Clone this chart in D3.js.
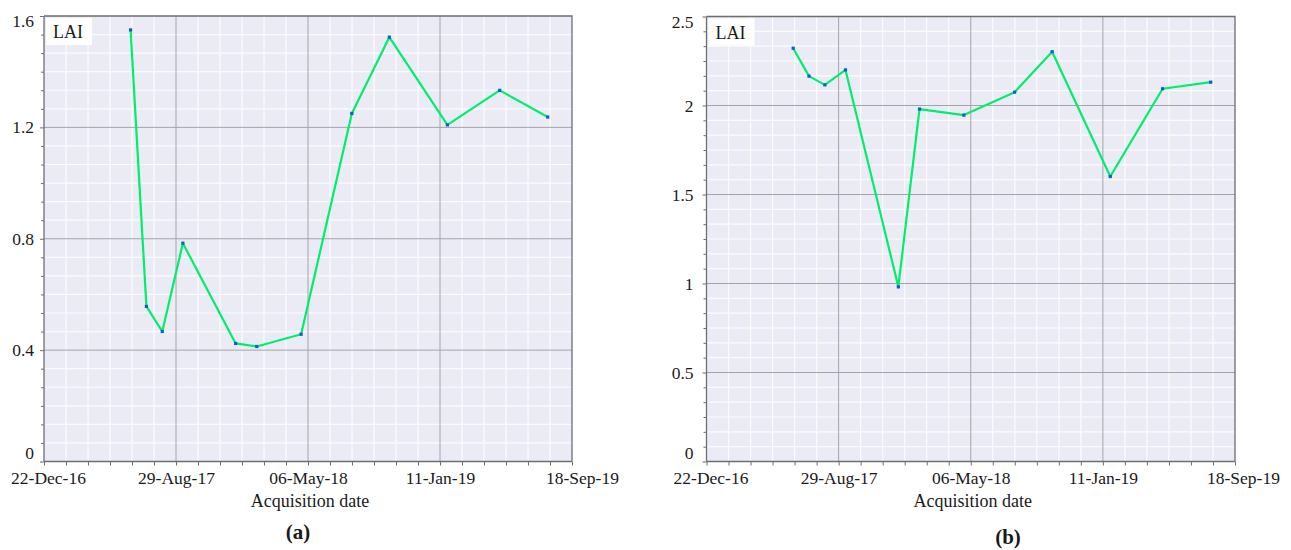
<!DOCTYPE html>
<html>
<head>
<meta charset="utf-8">
<script src="https://cdn.jsdelivr.net/npm/d3@7"></script>
<style>
    body { margin: 0; background: #fff; }
    svg text { font-family: 'Liberation Serif', 'Times New Roman', 'DejaVu Serif', serif !important; }
</style>
</head>
<body>
<svg width="1291" height="550"></svg>
<script>
    // acquisition dates (shared by both panels)
    var dates = ['2017-06-04', '2017-07-04', '2017-08-03', '2017-09-11', '2017-12-20', '2018-01-29',
                 '2018-04-23', '2018-07-28', '2018-10-07', '2019-01-25', '2019-05-04', '2019-08-03'];
    var laiA = [1.55, 0.557, 0.467, 0.784, 0.424, 0.413, 0.457, 1.25, 1.524, 1.209, 1.333, 1.237];
    var laiB = [2.322, 2.165, 2.116, 2.2, 0.981, 1.98, 1.946, 2.075, 2.302, 1.601, 2.094, 2.131];
    var xTicks = ['2016-12-22', '2017-08-29', '2018-05-06', '2019-01-11', '2019-09-18'];
    var yTicksA = [0, 0.4, 0.8, 1.2, 1.6];
    var yTicksB = [0, 0.5, 1, 1.5, 2, 2.5];
    var axisTitle = 'Acquisition date';

    var parse = d3.utcParse('%Y-%m-%d');
    var fmtDate = d3.utcFormat('%d-%b-%y');
    var svg = d3.select('svg');

    function drawPanel(opts) {
        var ticks = opts.yTicks;
        var x = d3.scaleUtc()
            .domain([parse(xTicks[0]), parse(xTicks[xTicks.length - 1])])
            .range([opts.left, opts.right]);
        var y = d3.scaleLinear()
            .domain([0, ticks[ticks.length - 1]])
            .range([opts.bottom, opts.top]);
        var xMajor = xTicks.map(parse);

        // minor positions: 6 subdivisions between majors
        var xMinor = [];
        for (var i = 0; i < xMajor.length - 1; i++) {
            var a = +xMajor[i], b = +xMajor[i + 1];
            for (var k = 1; k < 6; k++) xMinor.push(new Date(a + (b - a) * k / 6));
        }
        var yMinor = [];
        for (var j = 0; j < ticks.length - 1; j++) {
            for (var m = 1; m < 6; m++) yMinor.push(ticks[j] + (ticks[j + 1] - ticks[j]) * m / 6);
        }

        var g = svg.append('g');

        g.append('rect')
            .attr('x', opts.left).attr('y', opts.top)
            .attr('width', opts.right - opts.left).attr('height', opts.bottom - opts.top)
            .attr('fill', '#ebebf5');

        // minor grid
        g.selectAll('.vminor').data(xMinor).enter().append('line')
            .attr('x1', d => x(d)).attr('x2', d => x(d))
            .attr('y1', opts.top).attr('y2', opts.bottom)
            .attr('stroke', '#fbfbfe').attr('stroke-width', 1.2);
        g.selectAll('.hminor').data(yMinor).enter().append('line')
            .attr('x1', opts.left).attr('x2', opts.right)
            .attr('y1', d => y(d)).attr('y2', d => y(d))
            .attr('stroke', '#fbfbfe').attr('stroke-width', 1.2);

        // major grid
        g.selectAll('.vmajor').data(xMajor.slice(1, -1)).enter().append('line')
            .attr('x1', d => x(d)).attr('x2', d => x(d))
            .attr('y1', opts.top).attr('y2', opts.bottom)
            .attr('stroke', '#a4a4a8').attr('stroke-width', 1);
        g.selectAll('.hmajor').data(ticks.slice(1, -1)).enter().append('line')
            .attr('x1', opts.left).attr('x2', opts.right)
            .attr('y1', d => y(d)).attr('y2', d => y(d))
            .attr('stroke', '#a4a4a8').attr('stroke-width', 1);

        // frame top/right
        g.append('path')
            .attr('d', 'M' + opts.left + ',' + opts.top + 'H' + opts.right + 'V' + opts.bottom)
            .attr('fill', 'none').attr('stroke', '#6e6e6e').attr('stroke-width', 1.3);

        // axes
        var xAxis = g.append('g')
            .attr('transform', 'translate(0,' + opts.bottom + ')')
            .call(d3.axisBottom(x).tickValues(xMajor).tickFormat(fmtDate).tickSize(4).tickPadding(6));
        g.append('g')
            .attr('transform', 'translate(0,' + opts.bottom + ')')
            .call(d3.axisBottom(x).tickValues(xMinor).tickFormat('').tickSize(4).tickSizeOuter(0))
            .select('.domain').remove();
        var yAxis = g.append('g')
            .attr('transform', 'translate(' + opts.left + ',0)')
            .call(d3.axisLeft(y).tickValues(ticks).tickFormat(d3.format('~g')).tickSize(4).tickPadding(opts.pad));
        g.append('g')
            .attr('transform', 'translate(' + opts.left + ',0)')
            .call(d3.axisLeft(y).tickValues(yMinor).tickFormat('').tickSize(3).tickSizeOuter(0))
            .select('.domain').remove();

        g.selectAll('g').attr('font-family', null);
        g.selectAll('.domain').attr('stroke', '#6e6e6e').attr('stroke-width', 1.3);
        g.selectAll('.tick line').attr('stroke', '#6e6e6e');
        xAxis.selectAll('text').style('font-size', '17.5px').attr('fill', '#1a1a1a');
        yAxis.selectAll('text').style('font-size', '17.5px').attr('fill', '#1a1a1a');
        xAxis.select('.domain').attr('d', 'M' + opts.left + ',0H' + opts.right);
        yAxis.select('.domain').attr('d', 'M0,' + opts.bottom + 'V' + opts.top);

        // end labels are kept inside the plot extent
        var xt = xAxis.selectAll('.tick text');
        xt.filter((d, i) => i === 0).attr('dx', 4);
        xt.filter((d, i) => i === xMajor.length - 1).attr('dx', opts.lastDx);
        var yt = yAxis.selectAll('.tick text');
        yt.filter((d, i) => i === 0).attr('dy', '-0.15em');
        yt.filter((d, i) => i === ticks.length - 1).attr('dy', '0.6em');

        // LAI label
        g.append('rect')
            .attr('x', opts.left + 2).attr('y', opts.top + 2)
            .attr('width', 46).attr('height', 27).attr('fill', '#ffffff');
        g.append('text')
            .attr('x', opts.left + 9).attr('y', opts.top + 22)
            .attr('fill', '#1a1a1a')
            .style('font-size', '18px').text('LAI');

        // series
        var pts = dates.map((d, i) => ({ date: parse(d), v: opts.values[i] }));
        g.append('path')
            .datum(pts)
            .attr('d', d3.line().x(d => x(d.date)).y(d => y(d.v)))
            .attr('fill', 'none').attr('stroke', '#00ee6c').attr('stroke-width', 2.2)
            .attr('stroke-linejoin', 'round');
        g.selectAll('.pt').data(pts).enter().append('rect')
            .attr('x', d => x(d.date) - 1.6).attr('y', d => y(d.v) - 1.6)
            .attr('width', 3.2).attr('height', 3.2)
            .attr('fill', '#0c5fd0');

        // titles
        g.append('text')
            .attr('x', (opts.left + opts.right) / 2 + 2).attr('y', 507)
            .attr('text-anchor', 'middle').attr('fill', '#1a1a1a').style('font-size', '18px')
            .text(axisTitle);
        g.append('text')
            .attr('x', opts.capX).attr('y', opts.capY)
            .attr('text-anchor', 'middle').attr('fill', '#1a1a1a')
            .style('font-size', '21px').style('font-weight', 'bold')
            .text(opts.caption);
    }

    drawPanel({ left: 44, right: 572, top: 16, bottom: 461.5, yTicks: yTicksA, values: laiA,
                pad: 6, lastDx: 10, caption: '(a)', capX: 298, capY: 539 });
    drawPanel({ left: 706.5, right: 1235, top: 16.5, bottom: 461.5, yTicks: yTicksB, values: laiB,
                pad: 9, lastDx: 8, caption: '(b)', capX: 1008, capY: 544 });
</script>
</body>
</html>
